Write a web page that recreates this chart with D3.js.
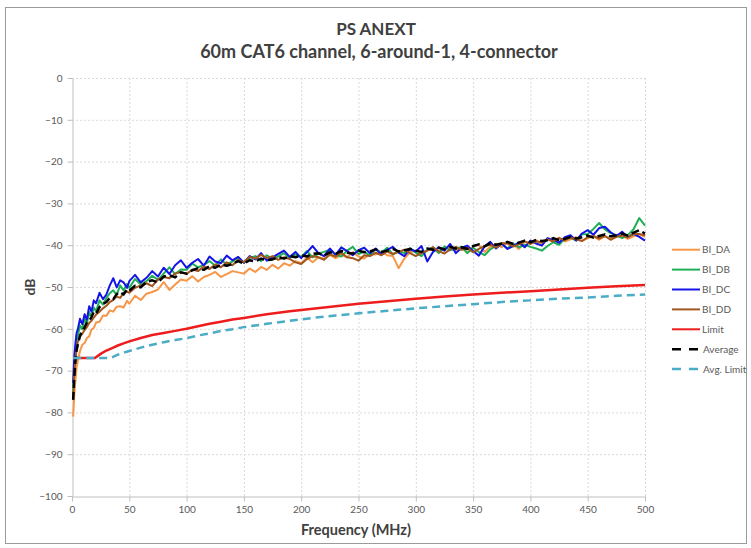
<!DOCTYPE html>
<html>
<head>
<meta charset="utf-8">
<script src="https://cdn.jsdelivr.net/npm/d3@7"></script>
<style>
  html, body { margin: 0; padding: 0; background: #fff; }
  svg { display: block; }
  text { font-family: Lato, "Open Sans", sans-serif; }
</style>
</head>
<body>
<script>
// Measurement frequencies (MHz)
const freq = [1,2,3,4,5,7,9,11,13,15,17,19,21,24,27,30,33,36,39,42,45,48,
  50,55,60,65,70,75,80,85,90,95,
  100,105,110,115,120,125,130,135,140,145,150,155,160,165,170,175,180,185,190,195,
  200,205,210,215,220,225,230,235,240,245,250,255,260,265,270,275,280,285,290,295,
  300,305,310,315,320,325,330,335,340,345,350,355,360,365,370,375,380,385,390,395,
  400,405,410,415,420,425,430,435,440,445,450,455,460,465,470,475,480,485,490,495,500];

// PS ANEXT per pair (dB)
const biDA = [-81,-75.8,-72.3,-69.2,-67.8,-65.3,-63.8,-63.4,-62.2,-61.8,-60.2,-59.8,-58.5,-58.3,-56.8,-56.9,-55.6,-55.9,-54.7,-54.6,-54.9,-53.3,
  -54.0,-52.1,-53.1,-51.6,-51.2,-50.6,-48.8,-50.7,-49.4,-48.2,
  -48.5,-47.4,-48.7,-47.6,-47.1,-46.4,-47.6,-46.9,-46.2,-46.5,-46.8,-45.6,-46.4,-45.2,-45.9,-44.7,-45.6,-44.3,-44.9,-43.8,
  -44.3,-43.0,-44.1,-42.9,-43.2,-42.3,-43.1,-42.3,-42.9,-41.7,-42.7,-43.2,-42.1,-42.2,-41.5,-42.4,-42.6,-45.5,-43.2,-41.7,
  -41.3,-42.1,-41.2,-40.9,-41.7,-40.8,-40.5,-41.3,-40.6,-41.8,-40.3,-39.9,-41.6,-40.4,-39.7,-40.5,-39.3,-39.8,-40.9,-39.1,
  -39.6,-38.8,-39.7,-38.4,-39.2,-38.2,-39.1,-38.6,-38.1,-39.0,-38.3,-37.9,-38.7,-37.8,-38.6,-38.0,-37.7,-38.5,-37.9,-37.4,-38.0];

const biDB = [-75,-69.2,-65.8,-62.6,-61.8,-59.2,-60.1,-57.6,-58.7,-56.0,-57.1,-54.9,-55.8,-53.2,-54.2,-52.6,-51.5,-50.8,-51.9,-49.6,-50.8,-49.3,
  -50.2,-48.1,-49.4,-48.6,-47.3,-48.3,-46.8,-45.3,-46.9,-45.8,
  -45.9,-44.4,-45.3,-44.7,-43.8,-44.9,-43.4,-44.6,-43.9,-42.9,-44.2,-43.1,-42.6,-43.8,-42.4,-43.3,-42.7,-41.9,-43.1,-42.2,
  -42.8,-41.4,-42.9,-42.0,-41.6,-41.1,-42.3,-42.7,-41.3,-40.4,-42.1,-41.5,-42.5,-40.9,-41.8,-40.6,-42.2,-41.4,-41.9,-40.7,
  -41.8,-42.6,-41.1,-40.5,-41.9,-40.3,-41.2,-40.8,-40.4,-41.9,-40.6,-41.6,-42.4,-41.0,-40.1,-39.7,-40.8,-39.6,-40.5,-39.9,
  -40.4,-40.8,-41.3,-40.2,-39.3,-39.9,-38.4,-38.2,-38.9,-37.4,-37.3,-36.1,-34.7,-36.2,-37.1,-37.6,-38.3,-37.6,-36.2,-33.5,-35.3];

const biDC = [-73,-66.5,-63.5,-61,-60.2,-57.6,-58.9,-56.5,-57.8,-54.6,-55.9,-53.2,-53.9,-51.4,-52.9,-51.8,-49.6,-47.9,-50.1,-48.4,-48.9,-50.2,
  -48.6,-47.1,-48.9,-47.8,-46.2,-47.5,-45.4,-46.9,-44.8,-43.6,
  -45.4,-44.2,-43.3,-44.9,-42.7,-43.9,-44.3,-42.5,-43.6,-42.8,-44.2,-42.6,-43.4,-41.9,-43.7,-42.9,-42.1,-41.3,-42.8,-41.6,
  -43.1,-41.7,-40.2,-41.9,-42.6,-40.8,-42.3,-40.5,-41.4,-42.4,-41.2,-40.6,-41.9,-40.8,-42.3,-41.1,-40.4,-41.8,-42.6,-40.9,
  -41.5,-40.2,-43.9,-41.6,-40.5,-41.3,-39.7,-41.9,-40.6,-40.1,-41.4,-42.5,-40.3,-39.2,-40.8,-39.6,-40.9,-40.2,-39.3,-40.5,
  -38.9,-39.6,-40.1,-38.3,-38.8,-39.4,-38.1,-37.6,-38.9,-37.2,-36.4,-37.5,-35.9,-35.6,-36.9,-37.8,-36.8,-38.1,-37.3,-38.0,-38.9];

const biDD = [-76.5,-70.8,-67.4,-65.1,-63.2,-61.9,-61.2,-60.3,-59.6,-58.6,-58.1,-57.3,-56.6,-55.9,-55.1,-54.5,-53.6,-53.1,-52.3,-52.6,-51.5,-51.1,
  -51.4,-50.2,-49.6,-49.1,-49.8,-48.2,-47.6,-47.9,-46.8,-46.4,
  -46.9,-45.8,-46.2,-45.1,-45.7,-44.6,-45.3,-44.1,-44.8,-43.5,-44.1,-42.8,-43.2,-42.3,-43.1,-42.6,-43.5,-42.9,-43.3,-44.1,
  -44.5,-43.3,-42.6,-42.9,-43.5,-42.2,-42.7,-41.8,-42.9,-43.1,-43.7,-42.4,-42.6,-41.8,-42.4,-41.5,-42.1,-41.6,-41.1,-41.9,
  -42.6,-41.8,-41.3,-40.5,-41.4,-42.0,-41.0,-40.4,-41.1,-40.6,-41.7,-40.9,-40.2,-39.9,-40.6,-39.5,-39.6,-40.3,-39.8,-39.1,
  -39.7,-39.1,-39.3,-38.6,-39.1,-38.3,-38.8,-38.2,-38.6,-39.0,-38.1,-37.8,-38.4,-37.8,-38.7,-38.0,-37.7,-38.1,-37.3,-37.3,-37.6];

const average = [-77,-71.5,-67.8,-65.2,-63.9,-61.6,-60.4,-59.7,-58.5,-58.1,-57.2,-56.0,-56.4,-54.8,-54.1,-53.6,-52.6,-52.9,-51.7,-51.2,-51.8,-50.5,
  -50.9,-49.7,-50.1,-48.8,-48.4,-48.9,-47.5,-47.2,-47.7,-46.5,
  -46.8,-46.0,-45.5,-45.9,-45.0,-45.4,-44.6,-44.9,-44.5,-43.8,-44.4,-43.6,-43.9,-43.2,-43.6,-43.4,-42.8,-43.2,-42.6,-42.9,
  -42.4,-42.7,-42.1,-41.9,-42.5,-41.7,-42.1,-41.4,-41.8,-42.0,-41.3,-41.7,-41.5,-41.0,-41.6,-41.3,-40.9,-41.5,-41.2,-40.9,
  -41.3,-41.6,-40.8,-41.1,-40.6,-41.0,-40.4,-40.8,-40.5,-40.9,-40.2,-39.8,-40.3,-39.5,-39.9,-39.6,-39.2,-39.7,-39.4,-38.9,
  -39.3,-38.7,-39.0,-38.8,-38.3,-38.8,-38.5,-38.0,-38.4,-38.1,-37.7,-38.2,-37.8,-37.4,-37.9,-37.6,-37.2,-37.7,-37.0,-36.4,-37.2];

// Limit lines
const limitFreq = [1,20,25,30,35,40,45,50,60,70,80,90,100,110,120,130,140,150,170,190,210,230,250,275,300,325,350,375,400,425,450,475,500];
const limitDb   = [-67,-67,-66.0,-65.2,-64.6,-64.0,-63.5,-63.0,-62.2,-61.5,-61.0,-60.5,-60.0,-59.4,-58.8,-58.3,-57.8,-57.4,-56.5,-55.8,-55.2,-54.6,-54.0,-53.4,-52.8,-52.3,-51.8,-51.4,-51.0,-50.6,-50.2,-49.85,-49.5];
const avgLimitFreq = [1,33.5,40,45,50,60,70,80,90,100,110,120,130,140,150,170,190,210,230,250,275,300,325,350,375,400,425,450,475,500];
const avgLimitDb   = [-67,-67,-66.2,-65.7,-65.3,-64.5,-63.8,-63.2,-62.7,-62.25,-61.6,-61.1,-60.5,-60.1,-59.6,-58.8,-58.1,-57.4,-56.8,-56.3,-55.7,-55.1,-54.6,-54.1,-53.6,-53.2,-52.8,-52.5,-52.1,-51.8];

const xTicks = [0,50,100,150,200,250,300,350,400,450,500];
const yTicks = [0,-10,-20,-30,-40,-50,-60,-70,-80,-90,-100];

const seriesNames = ["BI_DA","BI_DB","BI_DC","BI_DD","Limit","Average","Avg. Limit"];
const seriesColors = ["#F79646","#1FAF55","#1414E6","#A0561E","#EE1C1C","#000000","#4BACC6"];

const W = 751, H = 548;
const svg = d3.select("body").append("svg").attr("width", W).attr("height", H);

// chart frame
svg.append("rect").attr("x", 5.5).attr("y", 7.5).attr("width", 741).attr("height", 536)
  .attr("fill", "#fff").attr("stroke", "#9a9a9a").attr("stroke-width", 1);

const x = d3.scaleLinear().domain([0, 500]).range([72, 645]);
const y = d3.scaleLinear().domain([-100, 0]).range([496, 78]);

// gridlines
const gx = svg.append("g").attr("transform", "translate(0,496)")
  .call(d3.axisBottom(x).tickValues(xTicks.slice(1)).tickSize(-(496 - 78)).tickFormat(""));
const gy = svg.append("g").attr("transform", "translate(72,0)")
  .call(d3.axisLeft(y).tickValues(yTicks.slice(0, -1)).tickSize(-(645 - 72)).tickFormat(""));
[gx, gy].forEach(g => {
  g.select(".domain").remove();
  g.selectAll(".tick line").attr("stroke", "#d9d9d9").attr("stroke-dasharray", "2,2").attr("stroke-width", 1);
});

// axes
const ax = svg.append("g").attr("transform", "translate(0,496.5)")
  .call(d3.axisBottom(x).tickValues(xTicks).tickSize(5).tickPadding(4).tickSizeOuter(0));
const ay = svg.append("g").attr("transform", "translate(72.5,0)")
  .call(d3.axisLeft(y).tickValues(yTicks).tickSize(5).tickPadding(5).tickSizeOuter(0));
[ax, ay].forEach(g => {
  g.select(".domain").attr("stroke", "#bfbfbf");
  g.selectAll(".tick line").attr("stroke", "#bfbfbf");
  g.selectAll(".tick text").attr("fill", "#595959").style("font-size", "10px")
    .style("font-family", "Lato, 'Open Sans', sans-serif");
});

// series
const line = d3.line().x(d => x(d[0])).y(d => y(d[1]));
const plot = svg.append("g");
const drawSeries = (fs, vals, color, width, dash) =>
  plot.append("path").datum(fs.map((f, k) => [f, vals[k]]))
    .attr("d", line).attr("fill", "none").attr("stroke", color)
    .attr("stroke-width", width).attr("stroke-linejoin", "round")
    .attr("stroke-dasharray", dash);

[biDA, biDB, biDC, biDD].forEach((vals, i) => drawSeries(freq, vals, seriesColors[i], 2, null));
drawSeries(limitFreq, limitDb, seriesColors[4], 2.5, null);
drawSeries(freq, average, seriesColors[5], 2.5, "8,4");
drawSeries(avgLimitFreq, avgLimitDb, seriesColors[6], 2.5, "8,5");

// legend
const lg = svg.append("g");
seriesNames.forEach((name, i) => {
  const ly = 249.7 + i * 19.9;
  const dashed = name === "Average" || name === "Avg. Limit";
  lg.append("line").attr("x1", 672).attr("x2", 700).attr("y1", ly).attr("y2", ly)
    .attr("stroke", seriesColors[i]).attr("stroke-width", dashed ? 2.5 : 2)
    .attr("stroke-dasharray", dashed ? "9,8" : null);
  lg.append("text").attr("x", dashed ? 703 : 702).attr("y", ly).attr("dy", "0.35em")
    .attr("fill", "#595959").style("font-size", "10px").text(name);
});

// titles
svg.append("text").attr("x", 376).attr("y", 35).attr("text-anchor", "middle")
  .style("font-size", "17px").style("font-weight", "bold").attr("fill", "#404040").text("PS ANEXT");
svg.append("text").attr("x", 379).attr("y", 58).attr("text-anchor", "middle")
  .style("font-size", "18px").style("font-weight", "bold").attr("fill", "#404040")
  .text("60m CAT6 channel, 6-around-1, 4-connector");
svg.append("text").attr("x", 356).attr("y", 535).attr("text-anchor", "middle")
  .style("font-size", "14.5px").style("font-weight", "bold").attr("fill", "#404040").text("Frequency (MHz)");
svg.append("text").attr("transform", "translate(35,287) rotate(-90)").attr("text-anchor", "middle")
  .style("font-size", "14px").style("font-weight", "bold").attr("fill", "#404040").text("dB");
</script>
</body>
</html>
